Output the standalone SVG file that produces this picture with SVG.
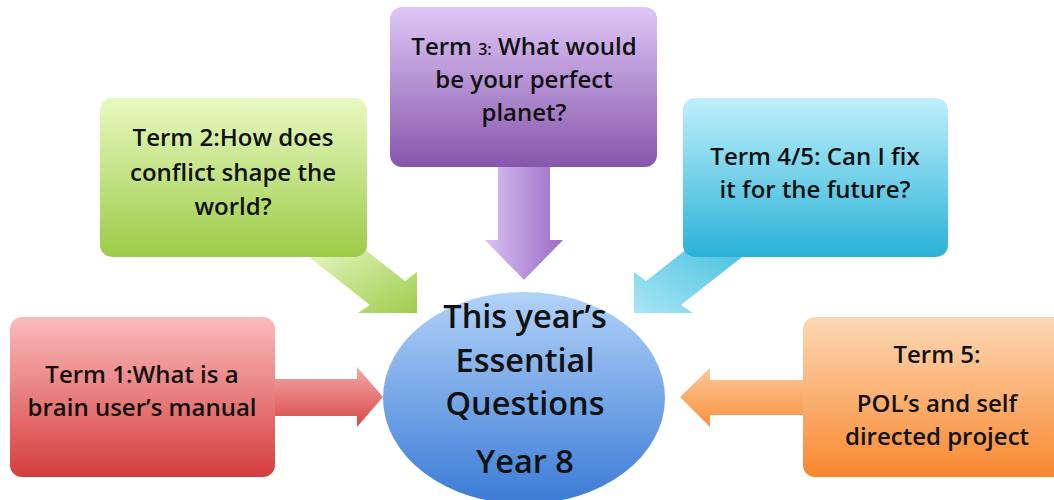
<svg xmlns="http://www.w3.org/2000/svg" width="1054" height="500" viewBox="0 0 1054 500">
<defs>
<linearGradient id="gRed" x1="0" y1="0" x2="0" y2="1"><stop offset="0" stop-color="#fbbcbc"/><stop offset="1" stop-color="#d63d3d"/></linearGradient>
<linearGradient id="gGreen" x1="0" y1="0" x2="0" y2="1"><stop offset="0" stop-color="#e8f9c0"/><stop offset="1" stop-color="#9ccb48"/></linearGradient>
<linearGradient id="gPurple" x1="0" y1="0" x2="0" y2="1"><stop offset="0" stop-color="#dfc7f6"/><stop offset="1" stop-color="#8656ad"/></linearGradient>
<linearGradient id="gCyan" x1="0" y1="0" x2="0" y2="1"><stop offset="0" stop-color="#bff0fb"/><stop offset="1" stop-color="#29b2d7"/></linearGradient>
<linearGradient id="gOrange" x1="0" y1="0" x2="0" y2="1"><stop offset="0" stop-color="#fdd8b6"/><stop offset="1" stop-color="#f8882e"/></linearGradient>
<linearGradient id="gBlue" x1="0" y1="0" x2="0" y2="1"><stop offset="0" stop-color="#b2d2f8"/><stop offset="1" stop-color="#3b7bd6"/></linearGradient>
<linearGradient id="aRed" x1="0" y1="0" x2="0" y2="1"><stop offset="0" stop-color="#f5a8a8"/><stop offset="1" stop-color="#d84848"/></linearGradient>
<linearGradient id="aOrange" x1="0" y1="0" x2="0" y2="1"><stop offset="0" stop-color="#fcc89c"/><stop offset="1" stop-color="#f8913c"/></linearGradient>
<linearGradient id="aPurple" x1="0" y1="0" x2="1" y2="0"><stop offset="0" stop-color="#d9c0f3"/><stop offset="1" stop-color="#9a6cc4"/></linearGradient>
<linearGradient id="aGreen" x1="0" y1="0" x2="1" y2="1"><stop offset="0" stop-color="#eefad0"/><stop offset="1" stop-color="#9fcd4c"/></linearGradient>
<linearGradient id="aCyan" x1="1" y1="0" x2="0" y2="1"><stop offset="0" stop-color="#3fbcdc"/><stop offset="1" stop-color="#a8e6f6"/></linearGradient>
</defs>
<style>
text{font-family:"Open Sans","Liberation Sans",sans-serif;font-weight:600;fill:#111;text-anchor:middle}
.t{font-size:24px}
.c{font-size:32.5px}
</style>
<g id="connectors">
<polygon points="270,379 357,379 357,367 383,397 357,427 357,416 270,416" fill="url(#aRed)"/>
<polygon points="808,380 710,380 710,368 680,397 710,427 710,415 808,415" fill="url(#aOrange)"/>
<polygon points="498,160 550,160 550,240 563,240 524,280 485,240 498,240" fill="url(#aPurple)"/>
<polygon points="300,250 370,305 358,313 417,313 417,272 405,281 350,238" fill="url(#aGreen)"/>
<polygon points="751,250 681,305 693,313 634,313 634,272 646,281 701,238" fill="url(#aCyan)"/>
</g>
<g id="term1">
<rect x="10" y="317" width="265" height="160" rx="12" fill="url(#gRed)"/>
<text class="t" x="142" y="383">Term 1:What is a</text>
<text class="t" x="142" y="416">brain user’s manual</text>
</g>
<g id="term2">
<rect x="100" y="98" width="267" height="159" rx="12" fill="url(#gGreen)"/>
<text class="t" x="233" y="146">Term 2:How does</text>
<text class="t" x="233" y="181">conflict shape the</text>
<text class="t" x="233" y="215">world?</text>
</g>
<g id="term3">
<rect x="390" y="7" width="267" height="160" rx="12" fill="url(#gPurple)"/>
<text class="t" x="524" y="55">Term <tspan font-size="16">3:</tspan> What would</text>
<text class="t" x="524" y="88">be your perfect</text>
<text class="t" x="524" y="121">planet?</text>
</g>
<g id="term45">
<rect x="683" y="98" width="265" height="159" rx="12" fill="url(#gCyan)"/>
<text class="t" x="815" y="165">Term 4/5: Can I fix</text>
<text class="t" x="815" y="198">it for the future?</text>
</g>
<g id="term5">
<rect x="803" y="317" width="265" height="160" rx="12" fill="url(#gOrange)"/>
<text class="t" x="937" y="363">Term 5:</text>
<text class="t" x="937" y="412">POL’s and self</text>
<text class="t" x="937" y="445">directed project</text>
</g>
<g id="center">
<ellipse cx="524" cy="398" rx="141" ry="106" fill="url(#gBlue)"/>
<text class="c" x="525" y="328">This year’s</text>
<text class="c" x="525" y="372">Essential</text>
<text class="c" x="525" y="415">Questions</text>
<text class="c" x="525" y="473">Year 8</text>
</g>
</svg>
